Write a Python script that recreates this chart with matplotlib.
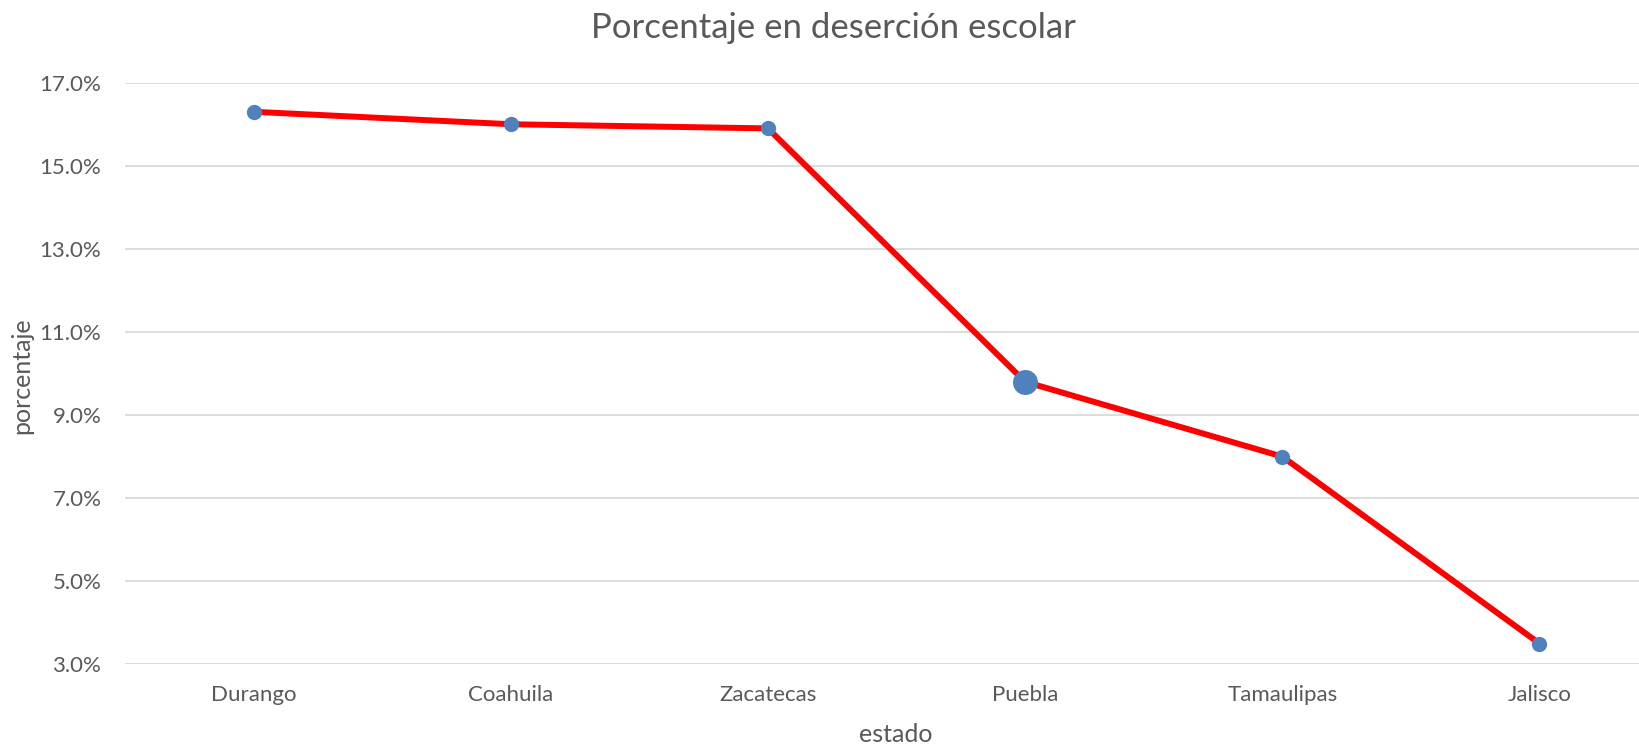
import matplotlib
matplotlib.use("Agg")
import matplotlib.pyplot as plt
from matplotlib.ticker import FuncFormatter

estados = ["Durango", "Coahuila", "Zacatecas", "Puebla", "Tamaulipas", "Jalisco"]
porcentajes = [16.3, 16.0, 15.9, 9.8, 8.0, 3.5]
marker_sizes = [11, 11, 11, 18, 11, 11]
y_ticks = [3, 5, 7, 9, 11, 13, 15, 17]

TEXT = "#595959"
plt.rcParams["font.family"] = ["Lato", "DejaVu Sans"]

W, H = 1639, 747
fig = plt.figure(figsize=(W / 100, H / 100), dpi=100)
ax = fig.add_axes([125 / W, 1 - 664.3 / H, 1 - 125 / W, (664.3 - 82.7) / H])

x = list(range(len(estados)))
ax.plot(x, porcentajes, color="#FF0000", linewidth=4.3, zorder=2, clip_on=False)
for xi, yi, ms in zip(x, porcentajes, marker_sizes):
    ax.plot(xi, yi, "o", color="#4F81BD", markersize=ms, markeredgewidth=0,
            zorder=3, clip_on=False)

ax.set_ylim(3, 17)
ax.set_xlim(-0.5, 5.387)
ax.set_yticks(y_ticks)
ax.yaxis.set_major_formatter(FuncFormatter(lambda v, p: f"{v:.1f}%"))
ax.set_xticks(x)
ax.set_xticklabels(estados)
ax.grid(axis="y", color="#D9D9D9", linewidth=1.3, zorder=0)
ax.set_axisbelow(True)
for s in ax.spines.values():
    s.set_visible(False)
ax.tick_params(axis="both", length=0, colors=TEXT, labelsize=16)
ax.tick_params(axis="y", pad=17)
ax.tick_params(axis="x", pad=15)

fig.text(833 / W, 1 - 28 / H, "Porcentaje en deserción escolar", ha="center",
         va="center", fontsize=25, color=TEXT)
fig.text(22 / W, 1 - 376 / H, "porcentaje", ha="center", va="center",
         rotation=90, fontsize=18, color=TEXT)
fig.text(896 / W, 1 - 734 / H, "estado", ha="center", va="center",
         fontsize=18, color=TEXT)

fig.savefig("out.png", dpi=100)
